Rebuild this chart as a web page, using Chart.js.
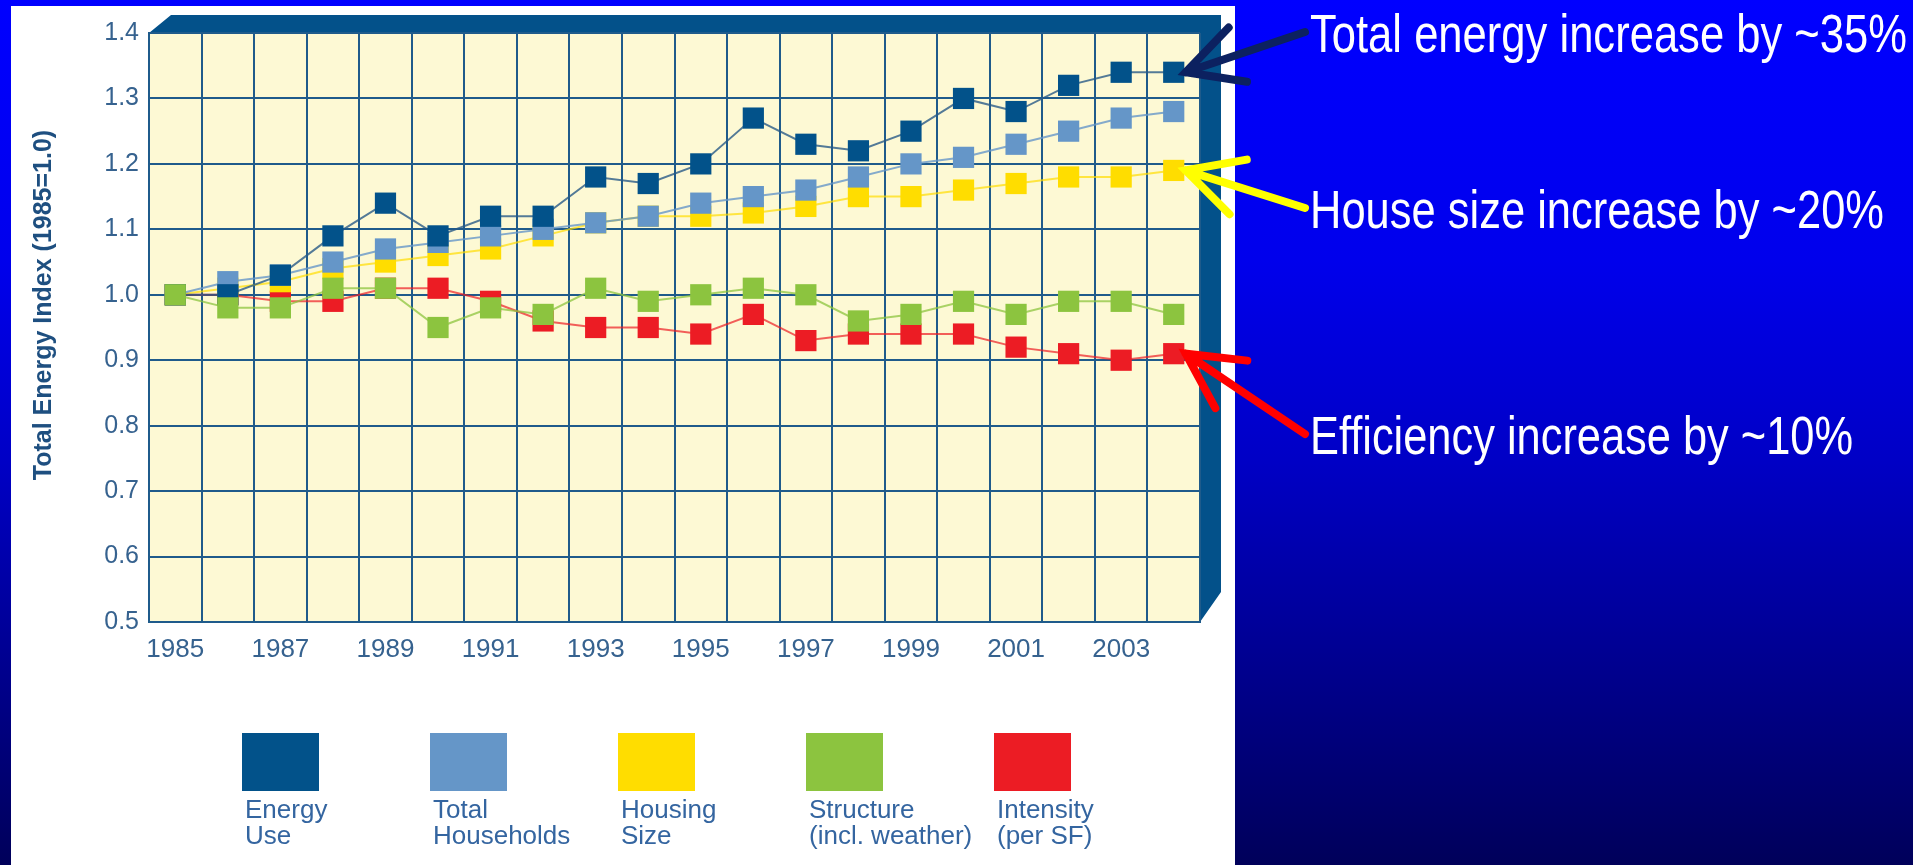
<!DOCTYPE html>
<html>
<head>
<meta charset="utf-8">
<script src="https://cdn.jsdelivr.net/npm/chart.js@4.4.1/dist/chart.umd.min.js"></script>
<style>
  html, body { margin: 0; padding: 0; overflow: hidden; background: #0000c0; }
  #energy { display: block; }
</style>
</head>
<body>
<canvas id="energy" width="1913" height="865"></canvas>
<script>
// données (indice 1985 = 1.0)
var years = ['1985', '1986', '1987', '1988', '1989', '1990', '1991', '1992', '1993', '1994',
             '1995', '1996', '1997', '1998', '1999', '2000', '2001', '2002', '2003', '2004'];
var energyUse       = [1.00, 1.00, 1.03, 1.09, 1.14, 1.09, 1.12, 1.12, 1.18, 1.17, 1.20, 1.27, 1.23, 1.22, 1.25, 1.30, 1.28, 1.32, 1.34, 1.34];
var totalHouseholds = [1.00, 1.02, 1.03, 1.05, 1.07, 1.08, 1.09, 1.10, 1.11, 1.12, 1.14, 1.15, 1.16, 1.18, 1.20, 1.21, 1.23, 1.25, 1.27, 1.28];
var housingSize     = [1.00, 1.01, 1.02, 1.04, 1.05, 1.06, 1.07, 1.09, 1.11, 1.12, 1.12, 1.125, 1.135, 1.15, 1.15, 1.16, 1.17, 1.18, 1.18, 1.19];
var structure       = [1.00, 0.98, 0.98, 1.01, 1.01, 0.95, 0.98, 0.97, 1.01, 0.99, 1.00, 1.01, 1.00, 0.96, 0.97, 0.99, 0.97, 0.99, 0.99, 0.97];
var intensity       = [1.00, 1.00, 0.99, 0.99, 1.01, 1.01, 0.99, 0.96, 0.95, 0.95, 0.94, 0.97, 0.93, 0.94, 0.94, 0.94, 0.92, 0.91, 0.90, 0.91];

var seriesNames  = ['Energy Use', 'Total Households', 'Housing Size', 'Structure (incl. weather)', 'Intensity (per SF)'];
var legendLines  = [['Energy', 'Use'], ['Total', 'Households'], ['Housing', 'Size'], ['Structure', '(incl. weather)'], ['Intensity', '(per SF)']];
var seriesColors = ['#02528a', '#6596c8', '#ffdd00', '#8cc43f', '#ec1c24'];
var lineColors   = ['rgba(40,90,135,0.8)', 'rgba(101,150,200,0.8)', 'rgba(255,221,0,0.7)', 'rgba(140,196,63,0.75)', 'rgba(236,28,36,0.7)'];
var drawOrder    = [1, 2, 3, 0, 4];   // le vert est dessiné au-dessus

var yTitle = 'Total Energy Index (1985=1.0)';
var yMin = 0.5, yMax = 1.4, yStep = 0.1;

// annotations à droite : texte, série visée, couleur de la flèche
var calloutTexts  = ['Total energy increase by ~35%', 'House size increase by ~20%', 'Efficiency increase by ~10%'];
var calloutSeries = [0, 2, 4];
var calloutArrows = ['#0c2160', '#ffff00', '#ff0000'];

var frameBlue = '#03518a';
var gridBlue = '#1f5b8b';
var tickBlue = '#36628f';

var allSeries = [energyUse, totalHouseholds, housingSize, structure, intensity];

// fond bleu, panneau blanc, zone jaune et cadre "3D"
var backdrop = {
    id: 'backdrop',
    beforeDraw: function (chart) {
        var ctx = chart.ctx, a = chart.chartArea;
        var g = ctx.createLinearGradient(0, 0, 0, chart.height);
        g.addColorStop(0, '#0000ff');
        g.addColorStop(0.3, '#0000ec');
        g.addColorStop(0.53, '#0000c6');
        g.addColorStop(0.66, '#0000a8');
        g.addColorStop(1, '#00005a');
        ctx.save();
        ctx.fillStyle = g;
        ctx.fillRect(0, 0, chart.width, chart.height);
        ctx.fillStyle = '#ffffff';
        ctx.fillRect(11, 6, 1224, chart.height - 6);
        ctx.fillStyle = '#fdf9d4';
        ctx.fillRect(a.left, a.top, a.right - a.left, a.bottom - a.top);
        ctx.fillStyle = frameBlue;
        ctx.beginPath();
        ctx.moveTo(a.left, a.top);
        ctx.lineTo(a.left + 22, a.top - 18);
        ctx.lineTo(a.right + 21, a.top - 18);
        ctx.lineTo(a.right + 21, a.bottom - 30);
        ctx.lineTo(a.right, a.bottom);
        ctx.lineTo(a.right, a.top);
        ctx.closePath();
        ctx.fill();
        ctx.restore();
    }
};

// titre de l'axe, légende sous le graphique, flèches et textes
var extras = {
    id: 'extras',
    afterDraw: function (chart) {
        var ctx = chart.ctx;
        ctx.save();

        // titre vertical
        ctx.translate(44, 305);
        ctx.rotate(-Math.PI / 2);
        ctx.font = "bold 25px 'Liberation Sans', Arial, sans-serif";
        ctx.fillStyle = '#1e4f80';
        ctx.textAlign = 'center';
        ctx.textBaseline = 'middle';
        ctx.fillText(yTitle, 0, 0);
        ctx.setTransform(1, 0, 0, 1, 0, 0);

        // légende
        ctx.textAlign = 'left';
        ctx.textBaseline = 'alphabetic';
        ctx.font = "26px 'Liberation Sans', Arial, sans-serif";
        for (var i = 0; i < legendLines.length; i++) {
            var lx = 242 + i * 188;
            ctx.fillStyle = seriesColors[i];
            ctx.fillRect(lx, 733, 77, 58);
            ctx.fillStyle = '#3465a0';
            ctx.fillText(legendLines[i][0], lx + 3, 818);
            ctx.fillText(legendLines[i][1], lx + 3, 844);
        }

        // annotations
        var textX = 1310;
        var baselines = [52, 228, 454];
        var widths = [597, 574, 543];
        ctx.font = "54px 'Liberation Sans', Arial, sans-serif";
        for (var k = 0; k < calloutTexts.length; k++) {
            var meta = chart.getDatasetMeta(calloutSeries[k]);
            var pt = meta.data[meta.data.length - 1];
            var tipX = pt.x + 12, tipY = pt.y;
            var sx = textX - 5, sy = baselines[k] - 20;

            ctx.strokeStyle = calloutArrows[k];
            ctx.lineWidth = 8;
            ctx.lineCap = 'round';
            var ang = Math.atan2(sy - tipY, sx - tipX);
            ctx.beginPath();
            ctx.moveTo(sx, sy);
            ctx.lineTo(tipX, tipY);
            ctx.moveTo(tipX + 62 * Math.cos(ang - 0.48), tipY + 62 * Math.sin(ang - 0.48));
            ctx.lineTo(tipX, tipY);
            ctx.lineTo(tipX + 62 * Math.cos(ang + 0.48), tipY + 62 * Math.sin(ang + 0.48));
            ctx.stroke();

            var w = ctx.measureText(calloutTexts[k]).width;
            ctx.save();
            ctx.translate(textX, baselines[k]);
            ctx.scale(widths[k] / w, 1);
            ctx.fillStyle = '#ffffff';
            ctx.fillText(calloutTexts[k], 0, 0);
            ctx.restore();
        }
        ctx.restore();
    }
};

document.addEventListener('DOMContentLoaded', function () {
    Chart.defaults.font.family = "'Liberation Sans', Arial, sans-serif";
    var ctx = document.getElementById('energy').getContext('2d');

    var datasets = seriesNames.map(function (name, i) {
        return {
            label: name,
            data: allSeries[i],
            order: drawOrder[i],
            borderColor: lineColors[i],
            borderWidth: 2,
            backgroundColor: seriesColors[i],
            pointStyle: 'rect',
            pointRadius: 15,
            pointHoverRadius: 15,
            pointBorderWidth: 0,
            pointBackgroundColor: seriesColors[i],
            tension: 0
        };
    });

    new Chart(ctx, {
        type: 'line',
        data: { labels: years, datasets: datasets },
        options: {
            responsive: false,
            animation: false,
            events: [],
            layout: { padding: { top: 33, left: 12, right: 713, bottom: 183 } },
            plugins: {
                legend: { display: false },
                tooltip: { enabled: false }
            },
            scales: {
                x: {
                    offset: true,
                    grid: { offset: true, color: gridBlue, lineWidth: 2, drawTicks: false },
                    border: { display: true, color: gridBlue, width: 2 },
                    ticks: {
                        autoSkip: false,
                        maxRotation: 0,
                        padding: 12,
                        color: tickBlue,
                        font: { size: 26 },
                        callback: function (value, index) {
                            return index % 2 === 0 ? this.getLabelForValue(value) : '';
                        }
                    },
                    afterFit: function (scale) { scale.height = 60; }
                },
                y: {
                    min: yMin,
                    max: yMax,
                    grid: { color: gridBlue, lineWidth: 2, drawTicks: false },
                    border: { display: true, color: gridBlue, width: 2 },
                    ticks: {
                        stepSize: yStep,
                        padding: 10,
                        color: tickBlue,
                        font: { size: 25 },
                        callback: function (v) { return v.toFixed(1); }
                    },
                    afterFit: function (scale) { scale.width = 137; }
                }
            }
        },
        plugins: [backdrop, extras]
    });
});
</script>
</body>
</html>
